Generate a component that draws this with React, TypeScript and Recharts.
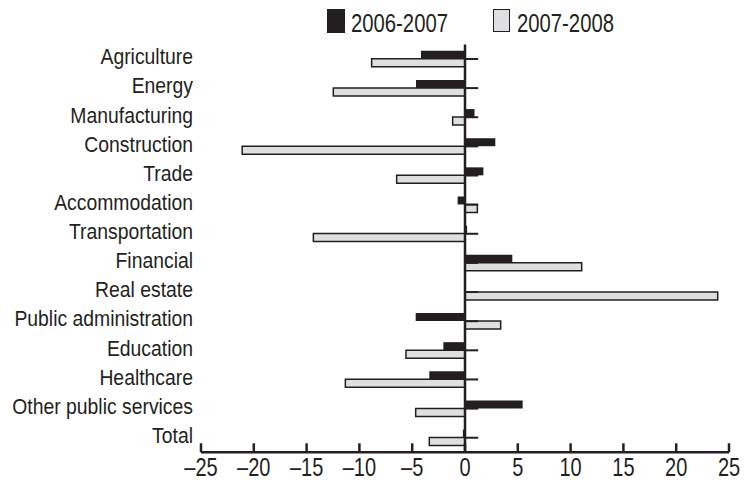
import React from "react";
import {
  BarChart,
  Bar,
  XAxis,
  YAxis,
  Legend,
  ReferenceLine,
} from "recharts";

const categories = [
  "Agriculture",
  "Energy",
  "Manufacturing",
  "Construction",
  "Trade",
  "Accommodation",
  "Transportation",
  "Financial",
  "Real estate",
  "Public administration",
  "Education",
  "Healthcare",
  "Other public services",
  "Total",
];

const values0607 = [
  -4.17, -4.64, 0.9, 2.87, 1.74, -0.7, 0.2, 4.48, 0, -4.67, -2.05, -3.38, 5.46,
  -0.2,
];

const values0708 = [
  -8.84, -12.47, -1.17, -21.1, -6.47, 1.17, -14.36, 11.05, 23.93, 3.38, -5.59,
  -11.33, -4.67, -3.38,
];

const xTicks = [-25, -20, -15, -10, -5, 0, 5, 10, 15, 20, 25];

const SERIES = [
  { key: "a", name: "2006-2007", fill: "#231f20", stroke: "none" },
  { key: "b", name: "2007-2008", fill: "#dedfe0", stroke: "#231f20" },
];

const INK = "#231f20";
// no condensed font installed, so Liberation Sans is squeezed horizontally
const FONT = "'Liberation Sans', Arial, sans-serif";

const chartData = categories.map((name, i) => ({
  name,
  a: values0607[i],
  b: values0708[i],
}));

const CategoryTick = (props: any) => {
  const { x, y, payload } = props;
  return (
    <text
      transform={`translate(${x},${y}) scale(0.88,1)`}
      dy={5.3}
      textAnchor="end"
      fill={INK}
      fontSize={22}
      fontFamily={FONT}
    >
      {payload.value}
    </text>
  );
};

const ValueTick = (props: any) => {
  const { x, y, payload } = props;
  const v = payload.value as number;
  const label = v < 0 ? `\u2013${Math.abs(v)}` : `${v}`;
  return (
    <text
      transform={`translate(${x},${y}) scale(0.8,1)`}
      dy={23.5}
      textAnchor="middle"
      fill={INK}
      fontSize={25}
      fontFamily={FONT}
    >
      {label}
    </text>
  );
};

const LegendContent = () => (
  <div style={{ position: "relative", height: 40, width: 746 }}>
    {SERIES.map((s, i) => {
      const left = 327 + i * 166;
      const dark = s.stroke === "none";
      return (
        <React.Fragment key={s.key}>
          <span
            style={{
              position: "absolute",
              left,
              top: 9,
              width: dark ? 18 : 15,
              height: dark ? 24 : 21,
              background: s.fill,
              border: dark ? "none" : `1.5px solid ${s.stroke}`,
            }}
          />
          <span
            style={{
              position: "absolute",
              left: left + 24,
              top: 10,
              lineHeight: "26px",
              fontSize: 26,
              fontFamily: FONT,
              color: INK,
              whiteSpace: "nowrap",
              transform: "scaleX(0.78)",
              transformOrigin: "left center",
            }}
          >
            {s.name}
          </span>
        </React.Fragment>
      );
    })}
  </div>
);

export default function App() {
  return (
    <div style={{ position: "absolute", left: 0, top: 0, background: "#fff" }}>
      <BarChart
        width={746}
        height={481}
        data={chartData}
        layout="vertical"
        margin={{ top: 4.4, right: 17, left: 0, bottom: 0 }}
        barCategoryGap="22%"
        barGap={0}
      >
        <Legend
          verticalAlign="top"
          content={<LegendContent />}
          wrapperStyle={{ top: 0, left: 0, width: 746, height: 40 }}
        />
        <XAxis
          type="number"
          domain={[-25, 25]}
          ticks={xTicks}
          interval={0}
          height={28.7}
          tickSize={-9}
          tickMargin={9}
          axisLine={{ stroke: INK, strokeWidth: 2.5 }}
          tickLine={{ stroke: INK, strokeWidth: 2.5 }}
          tick={<ValueTick />}
        />
        <YAxis
          type="category"
          dataKey="name"
          width={201}
          axisLine={false}
          tickLine={false}
          interval={0}
          tick={<CategoryTick />}
        />
        {SERIES.map((s) => (
          <Bar
            key={s.key}
            dataKey={s.key}
            name={s.name}
            fill={s.fill}
            stroke={s.stroke}
            strokeWidth={s.stroke === "none" ? 0 : 1.5}
            isAnimationActive={false}
          />
        ))}
        <ReferenceLine x={0} stroke={INK} strokeWidth={2.5} />
        {categories.map((c) => (
          <ReferenceLine
            key={c}
            segment={[
              { x: 0, y: c },
              { x: 1.25, y: c },
            ]}
            stroke={INK}
            strokeWidth={2}
          />
        ))}
      </BarChart>
    </div>
  );
}
